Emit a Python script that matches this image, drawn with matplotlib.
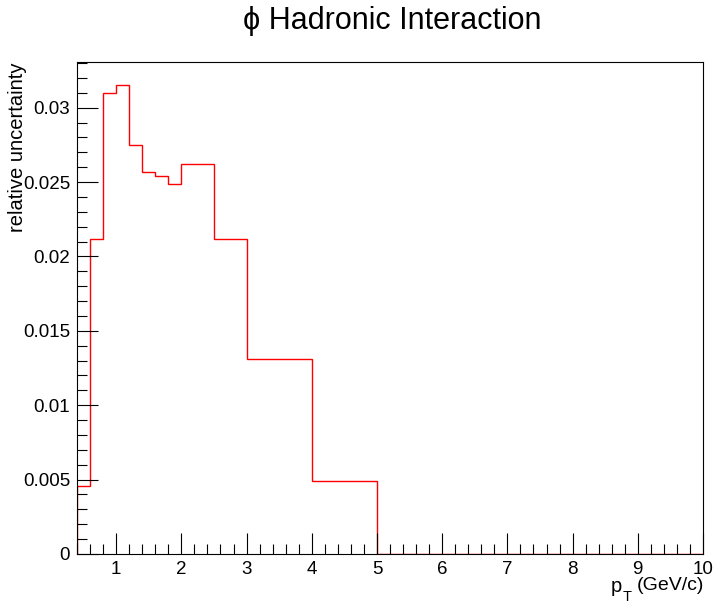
import matplotlib
matplotlib.use("Agg")
import matplotlib.pyplot as plt
from matplotlib.ticker import MultipleLocator, FuncFormatter

# bin edges in pT (GeV/c) and relative uncertainty per bin
edges = [0.4, 0.6, 0.8, 1.0, 1.2, 1.4, 1.6, 1.8, 2.0, 2.5, 3.0, 4.0, 5.0, 10.0]
values = [0.0046, 0.0212, 0.0310, 0.0315, 0.0275, 0.0257, 0.0254, 0.0249,
          0.0262, 0.0212, 0.0131, 0.0049, 0.0]

title = "\u03d5 Hadronic Interaction"
ylabel = "relative uncertainty"

plt.rcParams['font.family'] = ['Liberation Sans', 'DejaVu Sans']

fig = plt.figure(figsize=(7.2, 6.05), dpi=100)
ax = fig.add_axes([77 / 720, 1 - 554 / 605, (703 - 77) / 720, (554 - 62) / 605])

ax.stairs(values, edges, color='red', linewidth=1.0, baseline=0)

ax.set_xlim(0.4, 10)
ax.set_ylim(0, max(values) * 1.05)

ax.xaxis.set_major_locator(MultipleLocator(1))
ax.xaxis.set_minor_locator(MultipleLocator(0.2))
ax.yaxis.set_major_locator(MultipleLocator(0.005))
ax.yaxis.set_minor_locator(MultipleLocator(0.001))
ax.yaxis.set_major_formatter(FuncFormatter(lambda v, p: "%g" % round(v, 4)))

ax.tick_params(which='both', direction='in', top=False, right=False,
               labelsize=13.5, width=0.8)
ax.tick_params(which='major', length=15, pad=5)
ax.tick_params(which='minor', length=7.5)

for s in ax.spines.values():
    s.set_linewidth(0.8)

fig.text(392 / 720, 1 - 21 / 605, title, ha='center', va='center', fontsize=22)
# x title: p with subscript T, then unit
fig.text(704 / 720, 1 - 585 / 605, "(GeV/c)", ha='right', va='center', fontsize=14)
fig.text(622 / 720, 1 - 586 / 605, "p", ha='right', va='center', fontsize=14.5)
fig.text(623 / 720, 1 - 597 / 605, "T", ha='left', va='center', fontsize=10.5)
fig.text(18 / 720, 1 - 62 / 605, ylabel, ha='center', va='top', rotation=90, fontsize=14.5)

fig.savefig("out.png", dpi=100)
